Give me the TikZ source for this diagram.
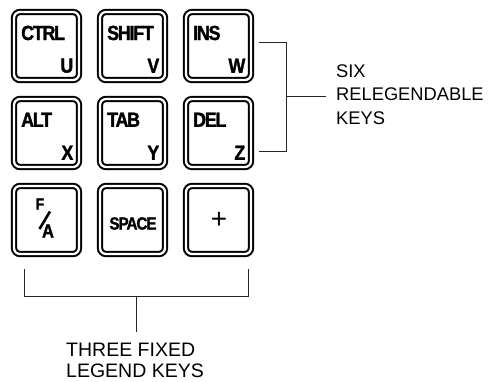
\documentclass[tikz,border=0pt]{standalone}
\usepackage{fontspec}
\setmainfont{Liberation Sans}
\newfontfamily\keyfont[LetterSpace=-6, FakeBold=1.5, FakeStretch=0.87]{Liberation Sans}
\usetikzlibrary{calc, positioning}
\tikzset{
  key/.style     = {draw, line width=2pt, double=white, double distance=2.3pt,
                    rounded corners=6pt, minimum width=65pt, minimum height=68pt,
                    inner sep=0pt},
  key text/.style= {inner sep=0pt, font=\keyfont\bfseries\fontsize{20.5}{20.5}\selectfont},
  bracket/.style = {black!85, line width=0.9pt},
  caption/.style = {align=left, inner sep=0pt},
}

\begin{document}
\begin{tikzpicture}[x=1pt, y=1pt]
  \useasboundingbox (0,0) rectangle (495,381);

  % relegendable keys: legend top left, letter bottom right
  \foreach \name/\x/\y/\lbl/\ltr in
      {ctrl/46.5/335/CTRL/U, shift/132.5/335/SHIFT/V, ins/218.5/335/INS/W,
       alt/46.5/248/ALT/X,   tab/132.5/248/TAB/Y,     del/218.5/248/DEL/Z}{
    \node[key] (\name) at (\x,\y) {};
    \node[key text, anchor=north west] (\name-lbl)
      at ($(\name.north west)+(8,-14.5)$) {\lbl};
    \node[key text, anchor=south east] (\name-ltr)
      at ($(\name.south east)+(-6.5,8)$) {\ltr};
  }

  % fixed legend keys
  \node[key] (fa)    at (46.5,161)  {};
  \node[key] (space) at (132.5,161) {};
  \node[key] (plus)  at (218.5,161) {};

  \node[key text, font=\keyfont\bfseries\fontsize{16}{16}\selectfont] (fa-f)
    at ($(fa)+(-6.5,16)$) {F};
  \node[key text, font=\keyfont\bfseries\fontsize{19}{19}\selectfont] (fa-a)
    at ($(fa)+(1.5,-11)$) {A};
  \draw[line width=2.6pt] ($(fa)+(-7,-9)$) -- ($(fa)+(3.5,8.5)$);

  \node[key text, font=\keyfont\bfseries\fontsize{17.5}{17.5}\selectfont] (space-lbl)
    at ($(space)+(0.5,-3.5)$) {SPACE};
  \node[inner sep=0pt, font=\fontsize{28}{28}\selectfont] (plus-lbl)
    at ($(plus)+(0.5,0)$) {+};

  % bracket: six relegendable keys
  \node[caption, inner xsep=10pt, anchor=west,
        font=\fontsize{18.3}{23.5}\selectfont] (relegend)
    at (326,286.5) {SIX\\RELEGENDABLE\\KEYS};
  \coordinate (rt) at ($(ins.east)+(7,4)$);
  \coordinate (rb) at ($(del.east)+(7,-18)$);
  \draw[bracket] (rt) -- ++(27,0) |- (rb);
  \coordinate (rmid) at ($(rt)!0.5!(rb)+(27,0)$);
  \draw[bracket] (rmid) -- (rmid -| relegend.west);

  % bracket: three fixed legend keys
  \node[caption, anchor=north west,
        font=\fontsize{19.5}{20.5}\selectfont] (fixed)
    at (66,38) {THREE FIXED\\LEGEND KEYS};
  \coordinate (bl) at ($(fa.south)+(-22.5,-14)$);
  \coordinate (br) at ($(plus.south)+(29.5,-14)$);
  \draw[bracket] (bl) -- ++(0,-27) -| (br);
  \coordinate (bmid) at ($(bl)!0.5!(br)+(0,-27)$);
  \draw[bracket, shorten >=11pt] (bmid) -- (bmid |- fixed.north);

\end{tikzpicture}
\end{document}
